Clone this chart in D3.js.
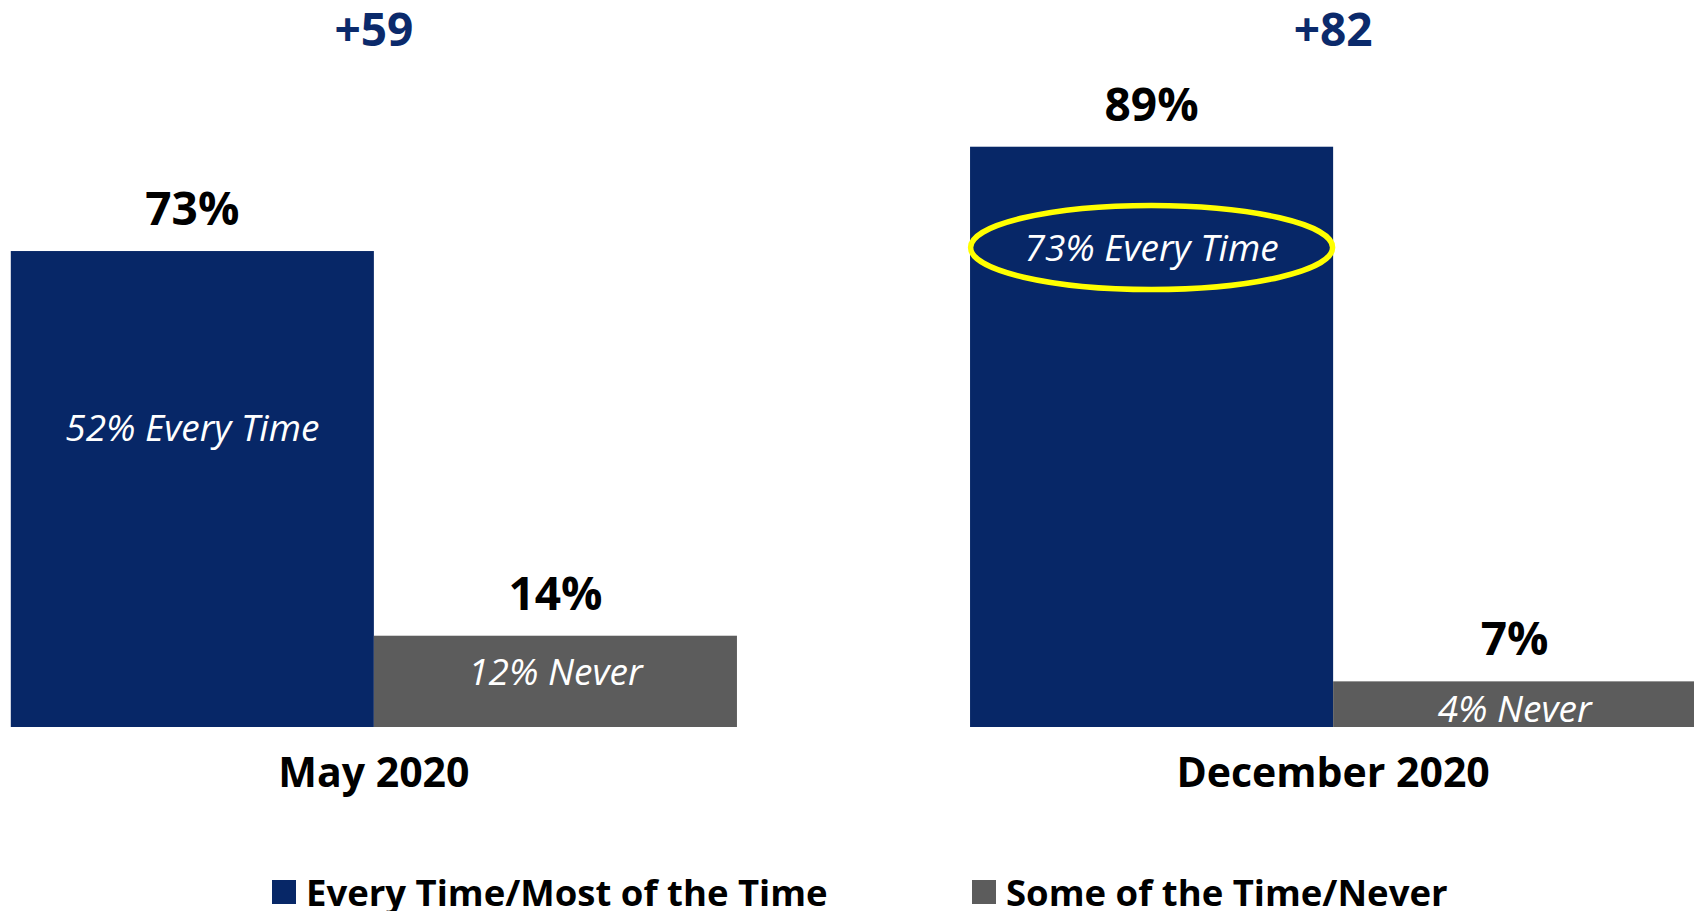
<!DOCTYPE html>
<html><head><meta charset="utf-8">
<script src="https://cdn.jsdelivr.net/npm/d3@7/dist/d3.min.js"></script>
<style>
html,body{margin:0;padding:0;background:#fff;overflow:hidden}
svg{display:block}
text{font-family:"Open Sans","Noto Sans",sans-serif}
</style></head>
<body>
<svg id="chart" width="1694" height="911"></svg>
<script>
// ---- data ----
const categories = ["May 2020", "December 2020"];
const seriesNames = ["Every Time/Most of the Time", "Some of the Time/Never"];
const everyMost = [73, 89];
const someNever = [14, 7];
const netLabels = ["+59", "+82"];
const innerEveryLabels = ["52% Every Time", "73% Every Time"];
const innerNeverLabels = ["12% Never", "4% Never"];
const highlighted = [false, true];

const colors = ["#072767", "#5c5c5c"];
const netColor = "#0b2a6b";

const W = 1694, H = 911;
const svg = d3.select("#chart");

const baseY = 727;
const y = d3.scaleLinear().domain([0, 100]).range([baseY, baseY - 652]);

const x0 = d3.scaleBand().domain(categories).range([10.8, 1696.2]).paddingInner(0.243).paddingOuter(0);
const x1 = d3.scaleBand().domain(seriesNames).range([0, x0.bandwidth()]).padding(0);
const color = d3.scaleOrdinal().domain(seriesNames).range(colors);

const rows = categories.map((c, i) => ({
  cat: c, i,
  vals: [
    {s: seriesNames[0], v: everyMost[i], inner: innerEveryLabels[i]},
    {s: seriesNames[1], v: someNever[i], inner: innerNeverLabels[i]}
  ]
}));

const g = svg.selectAll("g.grp").data(rows).join("g")
  .attr("class", "grp")
  .attr("transform", d => `translate(${x0(d.cat)},0)`);

g.selectAll("rect").data(d => d.vals).join("rect")
  .attr("x", d => x1(d.s))
  .attr("y", d => y(d.v))
  .attr("width", x1.bandwidth())
  .attr("height", d => y(0) - y(d.v))
  .attr("fill", d => color(d.s));

// value labels above bars
g.selectAll("text.val").data(d => d.vals).join("text")
  .attr("class", "val")
  .attr("x", d => x1(d.s) + x1.bandwidth() / 2)
  .attr("y", d => y(d.v) - 44)
  .attr("text-anchor", "middle")
  .attr("dominant-baseline", "central")
  .attr("font-size", 46)
  .attr("font-weight", 700)
  .attr("fill", "#000")
  .text(d => d.v + "%");

// inner italic labels
const everyInnerY = [426, 246];
const neverInnerY = [670, 707];
g.append("text")
  .attr("x", x1(seriesNames[0]) + x1.bandwidth() / 2)
  .attr("y", d => everyInnerY[d.i])
  .attr("text-anchor", "middle")
  .attr("dominant-baseline", "central")
  .attr("font-size", 37)
  .attr("font-style", "italic")
  .attr("fill", "#fff")
  .text(d => d.vals[0].inner);
g.append("text")
  .attr("x", x1(seriesNames[1]) + x1.bandwidth() / 2)
  .attr("y", d => neverInnerY[d.i])
  .attr("text-anchor", "middle")
  .attr("dominant-baseline", "central")
  .attr("font-size", 37)
  .attr("font-style", "italic")
  .attr("fill", "#fff")
  .text(d => d.vals[1].inner);

// highlight ellipse
g.filter(d => highlighted[d.i]).append("ellipse")
  .attr("cx", x1(seriesNames[0]) + x1.bandwidth() / 2)
  .attr("cy", 247.5)
  .attr("rx", 181)
  .attr("ry", 42)
  .attr("fill", "none")
  .attr("stroke", "#ffff00")
  .attr("stroke-width", 5.5);

// net labels
g.append("text")
  .attr("x", x0.bandwidth() / 2)
  .attr("y", 28)
  .attr("text-anchor", "middle")
  .attr("dominant-baseline", "central")
  .attr("font-size", 46)
  .attr("font-weight", 700)
  .attr("fill", netColor)
  .text(d => netLabels[d.i]);

// category axis labels
const axis = d3.axisBottom(x0).tickSize(0).tickPadding(0);
const ax = svg.append("g").attr("transform", `translate(0,${baseY})`).call(axis);
ax.select(".domain").remove();
ax.selectAll("text")
  .attr("y", 44)
  .attr("dy", null)
  .attr("dominant-baseline", "central")
  .attr("font-family", "'Open Sans','Noto Sans',sans-serif")
  .attr("font-size", 41)
  .attr("font-weight", 700)
  .attr("fill", "#000");

// legend
const legX = [272, 972];
const leg = svg.selectAll("g.leg").data(seriesNames).join("g")
  .attr("class", "leg")
  .attr("transform", (d, i) => `translate(${legX[i]},880)`);
leg.append("rect").attr("width", 24).attr("height", 24).attr("fill", d => color(d));
leg.append("text")
  .attr("x", 34).attr("y", 12)
  .attr("dominant-baseline", "central")
  .attr("font-size", 36.5)
  .attr("font-weight", 700)
  .attr("fill", "#000")
  .text(d => d);
</script>
</body></html>
